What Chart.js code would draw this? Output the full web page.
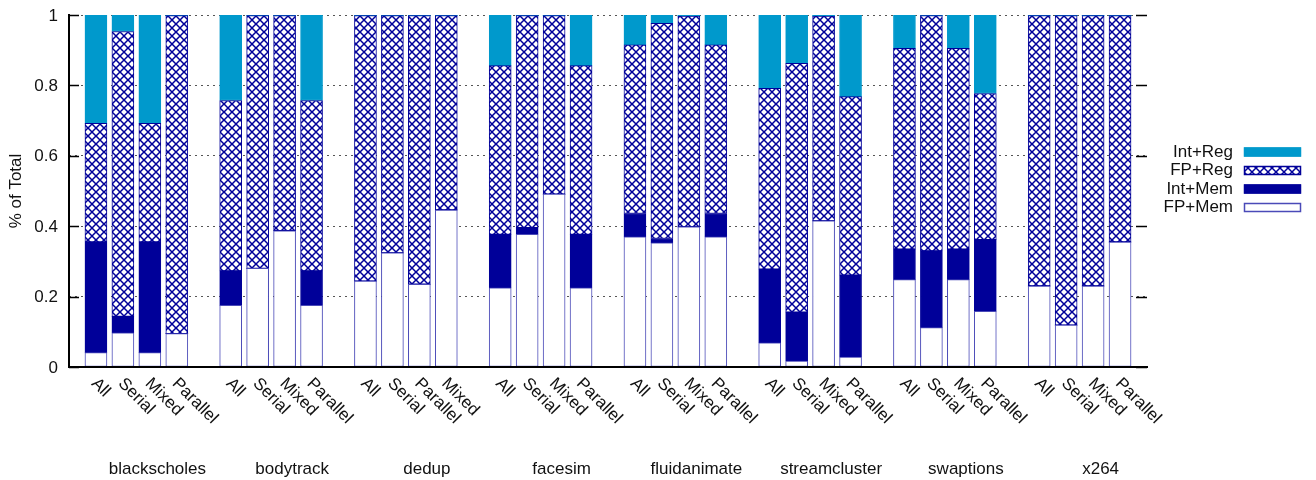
<!DOCTYPE html>
<html>
<head>
<meta charset="utf-8">
<script src="https://cdn.jsdelivr.net/npm/chart.js@4.4.1/dist/chart.umd.min.js"></script>
<style>
  html, body { margin: 0; padding: 0; background: #fff; }
  #wrap { width: 1316px; height: 480px; }
</style>
</head>
<body>
<div id="wrap"><canvas id="mixChart" width="1316" height="480"></canvas></div>
<script>
const groups = ['blackscholes', 'bodytrack', 'dedup', 'facesim', 'fluidanimate', 'streamcluster', 'swaptions', 'x264'];

const runs = [
    'All', 'Serial', 'Mixed', 'Parallel',
    'All', 'Serial', 'Mixed', 'Parallel',
    'All', 'Serial', 'Parallel', 'Mixed',
    'All', 'Serial', 'Mixed', 'Parallel',
    'All', 'Serial', 'Mixed', 'Parallel',
    'All', 'Serial', 'Mixed', 'Parallel',
    'All', 'Serial', 'Mixed', 'Parallel',
    'All', 'Serial', 'Mixed', 'Parallel'
];

// stack segments, bottom to top
const fpMem = [
    0.041, 0.097, 0.041, 0.095,
    0.175, 0.280, 0.387, 0.175,
    0.244, 0.324, 0.235, 0.446,
    0.225, 0.377, 0.491, 0.225,
    0.370, 0.353, 0.398, 0.370,
    0.069, 0.017, 0.415, 0.028,
    0.248, 0.112, 0.248, 0.158,
    0.230, 0.119, 0.230, 0.355
];
const intMem = [
    0.314, 0.047, 0.314, 0,
    0.098, 0, 0, 0.098,
    0, 0, 0, 0,
    0.152, 0.019, 0, 0.152,
    0.066, 0.012, 0, 0.066,
    0.209, 0.139, 0, 0.233,
    0.087, 0.218, 0.087, 0.204,
    0, 0, 0, 0
];
const fpReg = [
    0.337, 0.809, 0.337, 0.903,
    0.484, 0.718, 0.611, 0.484,
    0.754, 0.674, 0.763, 0.552,
    0.479, 0.602, 0.507, 0.479,
    0.479, 0.611, 0.599, 0.479,
    0.514, 0.707, 0.582, 0.507,
    0.570, 0.668, 0.570, 0.415,
    0.768, 0.879, 0.768, 0.643
];
const intReg = [
    0.308, 0.047, 0.308, 0.002,
    0.243, 0.002, 0.002, 0.243,
    0.002, 0.002, 0.002, 0.002,
    0.144, 0.002, 0.002, 0.144,
    0.085, 0.024, 0.003, 0.085,
    0.208, 0.137, 0.003, 0.232,
    0.095, 0.002, 0.095, 0.223,
    0.002, 0.002, 0.002, 0.002
];

const yTicks = [0, 0.2, 0.4, 0.6, 0.8, 1];

const FONT = "'Liberation Sans', Arial, sans-serif";
const TXT = '#111';

// one empty slot before every group of four bars, and one at the end
const spread = (arr, blank) => {
    const out = [];
    arr.forEach((v, i) => {
        if (i % 4 === 0) out.push(blank);
        out.push(v);
    });
    out.push(blank);
    return out;
};

const canvas = document.getElementById('mixChart');
const mainCtx = canvas.getContext('2d');

const makeHatch = () => {
    const c = document.createElement('canvas');
    c.width = 8;
    c.height = 8;
    const g = c.getContext('2d');
    g.fillStyle = '#fff';
    g.fillRect(0, 0, 8, 8);
    g.strokeStyle = '#000099';
    g.lineWidth = 1.5;
    g.beginPath();
    g.moveTo(0, 0); g.lineTo(8, 8);
    g.moveTo(8, 0); g.lineTo(0, 8);
    g.stroke();
    return mainCtx.createPattern(c, 'repeat');
};
const hatch = makeHatch();

const seg = (label, values, fill, border) => ({
    label: label,
    data: spread(values, null),
    backgroundColor: fill,
    borderColor: border,
    borderWidth: (c) => (c.raw > 0.004 ? 1 : 0),
    borderSkipped: false,
    barThickness: 22
});

const decor = {
    id: 'decor',
    afterDraw(chart) {
        const ctx = chart.ctx;
        const { left, right, top, bottom } = chart.chartArea;
        const xs = chart.scales.x;
        const ys = chart.scales.y;
        ctx.save();

        // axes
        ctx.strokeStyle = '#000';
        ctx.lineWidth = 2;
        ctx.beginPath();
        ctx.moveTo(left, top - 1);
        ctx.lineTo(left, bottom + 1);
        ctx.moveTo(left - 1, bottom);
        ctx.lineTo(right + 1, bottom);
        ctx.stroke();

        // inward ticks left and right, values on the left
        ctx.lineWidth = 1.5;
        ctx.beginPath();
        yTicks.forEach(v => {
            const y = Math.round(ys.getPixelForValue(v)) + 0.5;
            ctx.moveTo(left, y); ctx.lineTo(left + 10, y);
            ctx.moveTo(right - 11, y); ctx.lineTo(right, y);
        });
        ctx.stroke();

        ctx.fillStyle = TXT;
        ctx.font = `17px ${FONT}`;
        ctx.textAlign = 'right';
        ctx.textBaseline = 'middle';
        yTicks.forEach(v => {
            ctx.fillText(String(v), left - 11, ys.getPixelForValue(v) + 1);
        });

        // rotated run labels
        ctx.textAlign = 'left';
        chart.data.labels.forEach((lab, i) => {
            if (!lab) return;
            const x = xs.getPixelForValue(i);
            ctx.save();
            ctx.translate(x - 2, bottom + 14);
            ctx.rotate(Math.PI / 4);
            ctx.fillText(lab, 0, 0);
            ctx.restore();
        });

        // benchmark names
        const slot = xs.getPixelForValue(1) - xs.getPixelForValue(0);
        ctx.textAlign = 'center';
        ctx.textBaseline = 'alphabetic';
        groups.forEach((name, g) => {
            const x = xs.getPixelForValue(g * 5) + slot * 3.28;
            ctx.fillText(name, x, 474);
        });

        // legend, top of stack first
        const sets = chart.data.datasets.slice().reverse();
        ctx.textAlign = 'right';
        ctx.textBaseline = 'middle';
        sets.forEach((ds, k) => {
            const cy = 152 + k * 18.5;
            ctx.fillStyle = TXT;
            ctx.fillText(ds.label, 1233, cy);
            ctx.fillStyle = ds.backgroundColor;
            ctx.fillRect(1244, cy - 4.5, 57, 9);
            ctx.strokeStyle = ds.borderColor;
            ctx.lineWidth = 1.5;
            ctx.strokeRect(1244.5, cy - 4, 56, 8);
        });

        ctx.restore();
    }
};

new Chart(canvas, {
    type: 'bar',
    data: {
        labels: spread(runs, ''),
        datasets: [
            seg('FP+Mem', fpMem, '#ffffff', '#4a4ab8'),
            seg('Int+Mem', intMem, '#000099', '#000099'),
            seg('FP+Reg', fpReg, hatch, '#000099'),
            seg('Int+Reg', intReg, '#0099cc', '#0099cc')
        ]
    },
    options: {
        responsive: false,
        animation: false,
        devicePixelRatio: 1,
        layout: { padding: { left: 0, right: 169, top: 15, bottom: 0 } },
        plugins: {
            legend: { display: false },
            tooltip: { enabled: false }
        },
        scales: {
            x: {
                type: 'category',
                stacked: true,
                offset: false,
                grid: { display: false },
                border: { display: false },
                ticks: { display: false },
                afterFit: (s) => { s.height = 113; }
            },
            y: {
                stacked: true,
                min: 0,
                max: 1,
                afterBuildTicks: (s) => { s.ticks = yTicks.map(v => ({ value: v })); },
                grid: {
                    drawTicks: false,
                    color: '#555',
                    lineWidth: 1
                },
                border: { display: false, dash: [2, 4] },
                ticks: { display: false },
                title: {
                    display: true,
                    text: '% of Total',
                    color: TXT,
                    font: { family: FONT, size: 17 },
                    padding: { top: 6, bottom: 0 }
                },
                afterFit: (s) => { s.width = 69; }
            }
        }
    },
    plugins: [decor]
});
</script>
</body>
</html>
